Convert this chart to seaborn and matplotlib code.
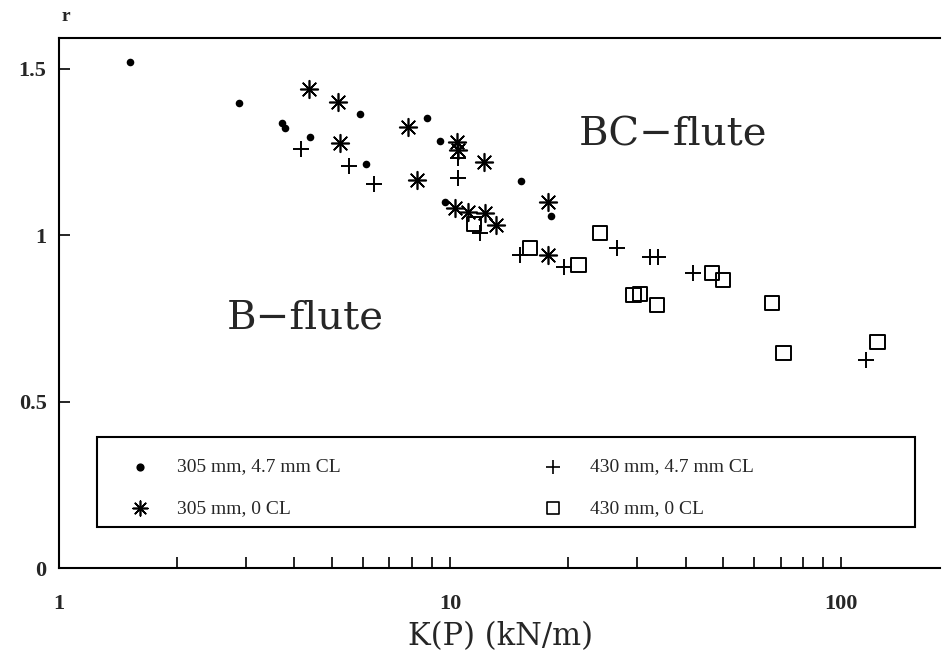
import matplotlib
matplotlib.use("Agg")
import matplotlib.pyplot as plt
import matplotlib.ticker as mticker
import seaborn as sns
import pandas as pd

# 305 mm, 4.7 mm CL
x_305_cl = [1.52, 2.89, 3.72, 3.78, 4.39, 5.89, 6.10, 8.73, 9.43, 9.71, 15.2, 18.1]
r_305_cl = [1.52, 1.396, 1.336, 1.321, 1.294, 1.363, 1.213, 1.351, 1.282, 1.099, 1.162, 1.057]

# 305 mm, 0 CL
x_305_0 = [4.36, 5.17, 5.23, 7.81, 8.23, 10.4, 10.5, 12.2, 10.3, 11.1, 12.3, 13.1, 17.8, 17.8]
r_305_0 = [1.438, 1.40, 1.276, 1.324, 1.165, 1.279, 1.255, 1.219, 1.081, 1.069, 1.066, 1.030, 1.099, 0.94]

# 430 mm, 4.7 mm CL
x_430_cl = [4.16, 5.52, 6.40, 10.5, 10.5, 11.9, 15.1, 19.5, 26.7, 32.5, 34.0, 41.8, 116]
r_430_cl = [1.258, 1.207, 1.153, 1.231, 1.171, 1.006, 0.940, 0.904, 0.961, 0.934, 0.934, 0.886, 0.625]

# 430 mm, 0 CL
x_430_0 = [11.5, 16.0, 21.3, 24.2, 29.4, 30.6, 33.8, 46.8, 49.9, 66.6, 71.1, 124]
r_430_0 = [1.033, 0.961, 0.910, 1.006, 0.820, 0.823, 0.790, 0.886, 0.865, 0.796, 0.646, 0.679]

legend_labels = ["305 mm, 4.7 mm CL", "305 mm, 0 CL", "430 mm, 4.7 mm CL", "430 mm, 0 CL"]
x_ticks = [1, 10, 100]
x_tick_labels = ["1", "10", "100"]
y_ticks = [0, 0.5, 1, 1.5]
y_tick_labels = ["0", "0.5", "1", "1.5"]

sns.set_style("white")
plt.rcParams["font.family"] = ["Liberation Serif", "DejaVu Serif"]

fig = plt.figure(figsize=(9.44, 6.52), dpi=100)
ax = fig.add_axes([0.0625, 0.1288, 0.9333, 0.8129])

asterisk = (8, 2, 0)
df1 = pd.DataFrame({"K": x_305_cl, "r": r_305_cl})
df2 = pd.DataFrame({"K": x_305_0, "r": r_305_0})
df3 = pd.DataFrame({"K": x_430_cl, "r": r_430_cl})
df4 = pd.DataFrame({"K": x_430_0, "r": r_430_0})

sns.scatterplot(data=df1, x="K", y="r", ax=ax, marker="o", s=30, color="black",
                edgecolor="black", linewidth=0, zorder=3)
sns.scatterplot(data=df2, x="K", y="r", ax=ax, marker=asterisk, s=160, color="black",
                linewidth=1.2, zorder=3)
sns.scatterplot(data=df3, x="K", y="r", ax=ax, marker="+", s=140, color="black",
                linewidth=1.4, zorder=3)
sns.scatterplot(data=df4, x="K", y="r", ax=ax, marker="s", s=110, facecolor="none",
                edgecolor="black", linewidth=1.4, zorder=3)

ax.set_xscale("log")
ax.set_xlim(1, 179)
ax.set_ylim(0, 1.592)

ax.xaxis.set_major_locator(mticker.FixedLocator(x_ticks))
ax.xaxis.set_major_formatter(mticker.FixedFormatter(x_tick_labels))
ax.xaxis.set_minor_locator(mticker.LogLocator(base=10, subs=range(2, 10)))
ax.xaxis.set_minor_formatter(mticker.NullFormatter())
ax.set_yticks(y_ticks)
ax.set_yticklabels(y_tick_labels)

ax.tick_params(axis="both", which="both", direction="in", length=8, width=1.2,
               color="black", labelsize=16, bottom=True, left=True, top=False, right=False)
ax.tick_params(axis="x", which="major", pad=19)
ax.tick_params(axis="y", which="major", pad=9)
for lbl in ax.get_xticklabels() + ax.get_yticklabels():
    lbl.set_fontweight("bold")

for side in ["left", "bottom", "top"]:
    ax.spines[side].set_visible(True)
    ax.spines[side].set_color("black")
    ax.spines[side].set_linewidth(1.5)
ax.spines["right"].set_visible(False)

ax.set_xlabel("")
ax.set_ylabel("")
fig.text(0.53, 0.024, "K(P) (kN/m)", fontsize=22, family="DejaVu Serif",
         ha="center", va="center")
ax.text(0.003, 1.025, "r", transform=ax.transAxes, fontsize=14, fontweight="bold",
        ha="left", va="bottom")

ax.text(0.697, 0.817, "BC\u2212flute", transform=ax.transAxes, fontsize=29,
        family="DejaVu Serif", ha="center", va="center")
ax.text(0.279, 0.472, "B\u2212flute", transform=ax.transAxes, fontsize=29,
        family="DejaVu Serif", ha="center", va="center")

# legend box drawn in axes coordinates
box = plt.Rectangle((0.043, 0.077), 0.929, 0.170, transform=ax.transAxes,
                    fill=False, edgecolor="black", linewidth=1.5, zorder=4)
ax.add_patch(box)
legend_markers = [("o", 22, True), (asterisk, 110, False), ("+", 110, False), ("s", 80, None)]
legend_pos = [(0.092, 0.191), (0.092, 0.113), (0.561, 0.191), (0.561, 0.113)]
for (mk, sz, filled), (lx, ly), lab in zip(legend_markers, legend_pos, legend_labels):
    if filled is None:
        ax.scatter([lx], [ly], marker=mk, s=sz, facecolor="none", edgecolor="black",
                   linewidth=1.2, transform=ax.transAxes, clip_on=False, zorder=5)
    else:
        ax.scatter([lx], [ly], marker=mk, s=sz, color="black", linewidth=1.2,
                   transform=ax.transAxes, clip_on=False, zorder=5)
    ax.text(lx + 0.042, ly, lab, transform=ax.transAxes, fontsize=14,
            ha="left", va="center")

fig.savefig("out.png", dpi=100, facecolor="white")
